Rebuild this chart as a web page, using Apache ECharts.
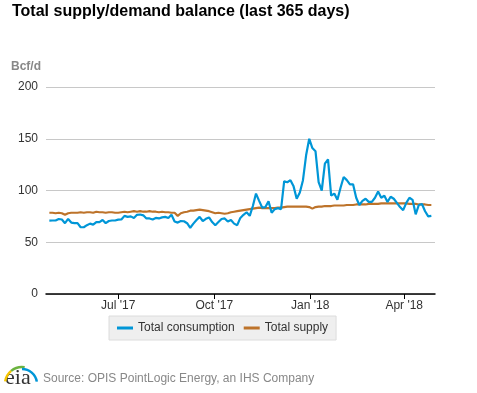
<!DOCTYPE html>
<html>
<head>
<meta charset="utf-8">
<script src="https://cdn.jsdelivr.net/npm/echarts@6/dist/echarts.min.js"></script>
<style>
html,body{margin:0;padding:0;background:#fff;}
#chart{width:477px;height:393px;}
</style>
</head>
<body>
<div id="chart"></div>
<script>
// ---- Data (Bcf/d), sampled every 3 days ----
var dates = [
'2017-04-26','2017-04-29','2017-05-02','2017-05-05','2017-05-08','2017-05-11','2017-05-14','2017-05-17','2017-05-20','2017-05-23',
'2017-05-26','2017-05-29','2017-06-01','2017-06-04','2017-06-07','2017-06-10','2017-06-13','2017-06-16','2017-06-19','2017-06-22',
'2017-06-25','2017-06-28','2017-07-01','2017-07-04','2017-07-07','2017-07-10','2017-07-13','2017-07-16','2017-07-19','2017-07-22',
'2017-07-25','2017-07-28','2017-07-31','2017-08-03','2017-08-06','2017-08-09','2017-08-12','2017-08-15','2017-08-18','2017-08-21',
'2017-08-24','2017-08-27','2017-08-30','2017-09-02','2017-09-05','2017-09-08','2017-09-11','2017-09-14','2017-09-17','2017-09-20',
'2017-09-23','2017-09-26','2017-09-29','2017-10-02','2017-10-05','2017-10-08','2017-10-11','2017-10-14','2017-10-17','2017-10-20',
'2017-10-23','2017-10-26','2017-10-29','2017-11-01','2017-11-04','2017-11-07','2017-11-10','2017-11-13','2017-11-16','2017-11-19',
'2017-11-22','2017-11-25','2017-11-28','2017-12-01','2017-12-04','2017-12-07','2017-12-10','2017-12-13','2017-12-16','2017-12-19',
'2017-12-22','2017-12-25','2017-12-28','2017-12-31','2018-01-03','2018-01-06','2018-01-09','2018-01-12','2018-01-15','2018-01-18',
'2018-01-21','2018-01-24','2018-01-27','2018-01-30','2018-02-02','2018-02-05','2018-02-08','2018-02-11','2018-02-14','2018-02-17',
'2018-02-20','2018-02-23','2018-02-26','2018-03-01','2018-03-04','2018-03-07','2018-03-10','2018-03-13','2018-03-16','2018-03-19',
'2018-03-22','2018-03-25','2018-03-28','2018-03-31','2018-04-03','2018-04-06','2018-04-09','2018-04-12','2018-04-15','2018-04-18',
'2018-04-21','2018-04-24','2018-04-27'
];
var consumption = [
70.9,71,71,72.5,72,68.4,72.5,69,68.5,68.5,
64.5,64.5,66.5,68,67,69.5,69.5,71.5,68.5,70.5,
71,71,71.8,72,75.5,74.5,75,73.5,76.5,76.8,
76,73,73,72,73.5,73,74,74.5,73.5,76.5,
70,69,70.5,70.3,68.4,64,68,71.5,74.5,70.5,
72.6,74,69.5,66.5,69.5,72.5,73,70,71.5,68,
66.5,73.5,76.5,79,75.5,85,97,90,83.4,84,
89.5,78.5,82,83,82,109,108,110,104,92,
98,110,134,150,141,138,108,100,126,130,
95,97,91,102.6,113,110,106,106,93,86,
90,92,89,89,93,99,93,95,89,94,
92,88,84,81,88,93,91,77,86,87,
80,75,75.5
];
var supply = [
78.5,78.5,78,78.5,78,76.5,78,78.5,78.5,78.5,
79,78.5,79,79,78.5,79.5,79,79,78.5,79,
79,78.5,78.5,79,79.5,79,79.5,80,79.5,80,
79.5,79.5,80,79.5,79.5,79,79.5,79,79,78.5,
78.5,75.5,78,79,79.5,80.5,80.5,81,81.5,81,
80.5,80,79,78,78.5,78,77.5,78,79,79.5,
80,80.5,81,81.5,82,82.5,83,83.5,83,83,
83,83,83,83.5,83.5,84,84.5,84.5,84.5,84.5,
84.5,84.5,84.5,84,82.5,84,84.5,84.5,85,85,
85,85.5,85.5,85.5,85.5,86,86,86,86.5,86.5,
86.5,86.5,87,87,87,87,87.5,87.5,87.5,87.5,
87.5,87.5,87.5,87.5,87.5,87,87,87,86.5,86.5,
86.5,86,86
];
var tickDates = ['2017-07-01','2017-10-01','2018-01-01','2018-04-01'];
var tickLabels = ["Jul '17","Oct '17","Jan '18","Apr '18"];
var yTicks = [0,50,100,150,200];
var seriesNames = ['Total consumption','Total supply'];

function ts(s){ var p=s.split('-'); return Date.UTC(+p[0], +p[1]-1, +p[2]); }
var tickTs = tickDates.map(ts);
function pairs(vals){ return dates.map(function(d,i){ return [ts(d), vals[i]]; }); }

var chart = echarts.init(document.getElementById('chart'), null, {renderer:'canvas'});
var FONT = '"Liberation Sans", Arial, sans-serif';
chart.setOption({
  animation:false,
  backgroundColor:'#ffffff',
  textStyle:{fontFamily:FONT},
  grid:{left:46,right:42,top:87,bottom:99,containLabel:false},
  xAxis:{
    type:'value',
    min: Date.UTC(2017,3,22,19),
    max: Date.UTC(2018,3,30,12),
    axisLine:{show:true,lineStyle:{color:'#000',width:1.5}},
    axisTick:{show:true,customValues:tickTs,length:5,lineStyle:{color:'#000'}},
    axisLabel:{
      customValues:tickTs,
      color:'#333',fontSize:12,fontFamily:FONT,margin:6,
      formatter:function(v){ var i=tickTs.indexOf(v); return i>=0?tickLabels[i]:''; }
    },
    splitLine:{show:false}
  },
  yAxis:{
    type:'value',min:yTicks[0],max:yTicks[yTicks.length-1],interval:50,
    axisLine:{show:false},axisTick:{show:false},
    axisLabel:{color:'#333',fontSize:12,fontFamily:FONT,margin:8},
    splitLine:{show:true,lineStyle:{color:'#c8c8c8',width:1}}
  },
  legend:{
    left:109,top:316,
    backgroundColor:'#efefef',borderColor:'#dcdcdc',borderWidth:1,
    padding:[6,8,6,8],
    icon:'rect',itemWidth:16,itemHeight:3,itemGap:9,
    textStyle:{color:'#333',fontSize:12,fontFamily:FONT},
    data:seriesNames
  },
  series:[
    {name:seriesNames[1],type:'line',data:pairs(supply),showSymbol:false,symbol:'none',
     lineStyle:{color:'#bd732a',width:2.2},itemStyle:{color:'#bd732a'},z:2},
    {name:seriesNames[0],type:'line',data:pairs(consumption),showSymbol:false,symbol:'none',
     lineStyle:{color:'#0096d7',width:2.2},itemStyle:{color:'#0096d7'},z:3}
  ],
  graphic:[
    {type:'text',left:12,top:4,style:{text:'Total supply/demand balance (last 365 days)',fill:'#000',font:'bold 16px '+FONT}},
    {type:'text',left:11,top:61,style:{text:'Bcf/d',fill:'#888',font:'bold 12px '+FONT}},
    {type:'text',left:43,top:373,style:{text:'Source: OPIS PointLogic Energy, an IHS Company',fill:'#888',font:'12px '+FONT}},
    {type:'text',left:5,top:367,style:{text:'eia',fill:'#333',font:'22px "Liberation Serif", serif'}},
    {type:'arc',shape:{cx:22,cy:384,r:17,startAngle:-Math.PI*0.95,endAngle:-Math.PI*0.72},style:{stroke:'#f5c400',lineWidth:2.5,fill:null}},
    {type:'arc',shape:{cx:22,cy:384,r:17,startAngle:-Math.PI*0.72,endAngle:-Math.PI*0.45},style:{stroke:'#6cb33f',lineWidth:2.5,fill:null}},
    {type:'arc',shape:{cx:22,cy:384,r:15,startAngle:-Math.PI*0.5,endAngle:-Math.PI*0.05},style:{stroke:'#0096d7',lineWidth:2.5,fill:null}}
  ]
});
</script>
</body>
</html>
